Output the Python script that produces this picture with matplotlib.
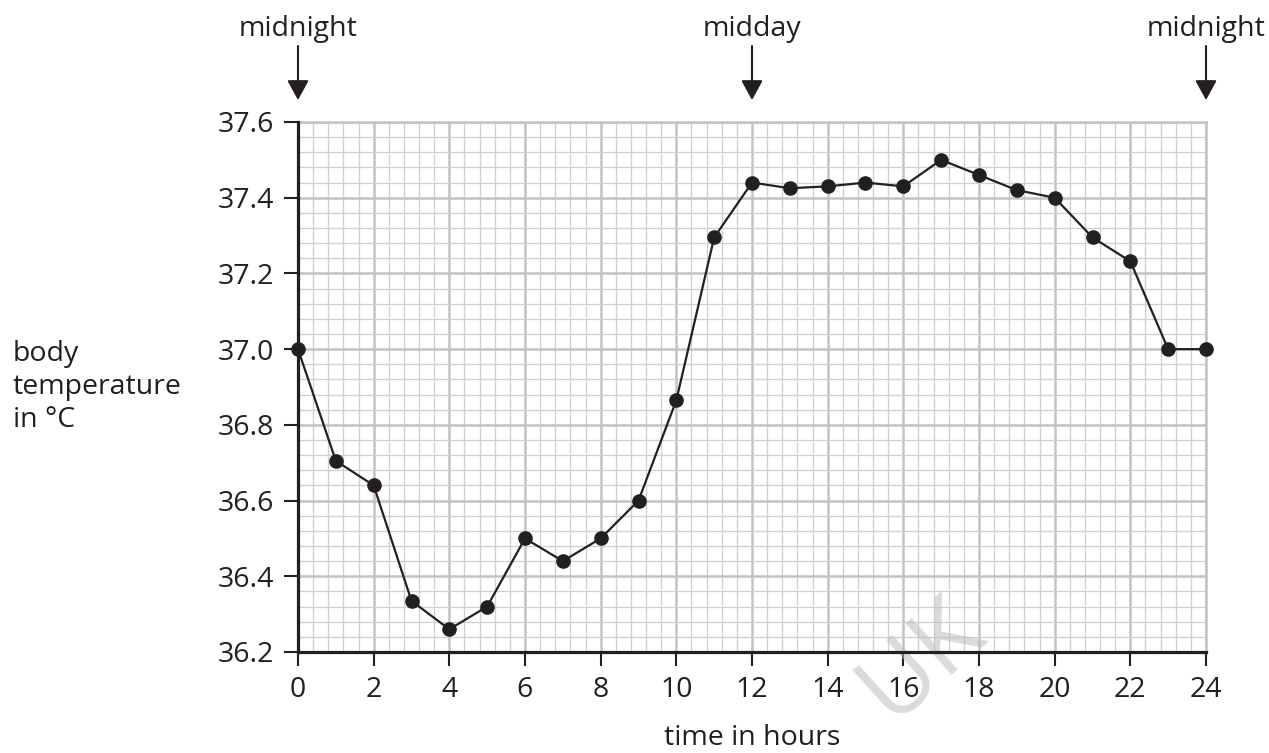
import numpy as np
import matplotlib.pyplot as plt
from matplotlib import transforms
from matplotlib.ticker import MultipleLocator

# body temperature, one reading per hour
hours = list(range(0, 25))
temps = [37.00, 36.705, 36.64, 36.335, 36.26, 36.32, 36.50, 36.44, 36.50,
         36.60, 36.865, 37.295, 37.44, 37.425, 37.43, 37.44, 37.43, 37.50,
         37.46, 37.42, 37.40, 37.295, 37.232, 37.00, 37.00]

x_ticks = list(range(0, 25, 2))
y_ticks = [36.2, 36.4, 36.6, 36.8, 37.0, 37.2, 37.4, 37.6]
y_tick_labels = ["36.2", "36.4", "36.6", "36.8", "37.0", "37.2", "37.4", "37.6"]

# labelled moments above the plot
moment_hours = [0, 12, 24]
moment_labels = ["midnight", "midday", "midnight"]

INK = "#231f20"
GRID_MAJOR = "#c3c3c7"
GRID_MINOR = "#cfcfd2"
W, H = 1269, 753
FS = 20.5

plt.rcParams['font.family'] = ['Open Sans', 'DejaVu Sans']

fig = plt.figure(figsize=(W / 100, H / 100), dpi=100)
ax = fig.add_axes([298 / W, (H - 652) / H, 908 / W, 530 / H])

ax.set_xlim(0, 24)
ax.set_ylim(36.2, 37.6)

ax.set_xticks(x_ticks)
ax.set_yticks(y_ticks)
ax.set_yticklabels(y_tick_labels)
ax.xaxis.set_minor_locator(MultipleLocator(0.4))
ax.yaxis.set_minor_locator(MultipleLocator(0.04))

ax.grid(which='minor', color=GRID_MINOR, lw=0.9, zorder=0)
ax.grid(which='major', color=GRID_MAJOR, lw=1.8, zorder=0)
ax.set_axisbelow(True)

ax.tick_params(which='major', direction='out', length=10, width=1.5,
               color=INK, labelcolor=INK, labelsize=FS)
ax.tick_params(axis='y', which='major', pad=7)
ax.tick_params(axis='x', which='major', pad=7)
ax.tick_params(which='minor', length=0)

for side in ('top', 'right'):
    ax.spines[side].set_color(GRID_MAJOR)
    ax.spines[side].set_linewidth(1.8)
for side in ('left', 'bottom'):
    ax.spines[side].set_color(INK)
    ax.spines[side].set_linewidth(2.3)
    ax.spines[side].set_zorder(4)

ax.plot(hours, temps, color=INK, lw=1.6, marker='o', markersize=9.5,
        markerfacecolor=INK, markeredgecolor=INK, zorder=5, clip_on=False)

# arrows + labels for midnight / midday
trans = transforms.blended_transform_factory(ax.transData, fig.transFigure)
for h, lab in zip(moment_hours, moment_labels):
    ax.annotate('', xy=(h, (H - 100) / H), xytext=(h, (H - 46) / H),
                xycoords=trans, textcoords=trans, annotation_clip=False,
                arrowprops=dict(arrowstyle='-|>,head_length=0.6,head_width=0.33',
                                mutation_scale=20, lw=1.5, color=INK,
                                shrinkA=0, shrinkB=0))
    ax.text(h, (H - 29) / H, lab, transform=trans, ha='center', va='center',
            fontsize=FS, color=INK)

fig.text(13 / W, (H - 387) / H, "body\ntemperature\nin °C", ha='left',
         va='center', fontsize=FS, color=INK, linespacing=1.25)
ax.text(12, (H - 738) / H, "time in hours", transform=trans, ha='center',
        va='center', fontsize=FS, color=INK)

# faint watermark (kept inside the canvas)
ax.text(16.5, (H - 660) / H, "UK", transform=trans, ha='center', va='center',
        fontsize=70, color='#bdbdbd', alpha=0.55, rotation=42, zorder=3)

fig.savefig("out.png", dpi=100)
